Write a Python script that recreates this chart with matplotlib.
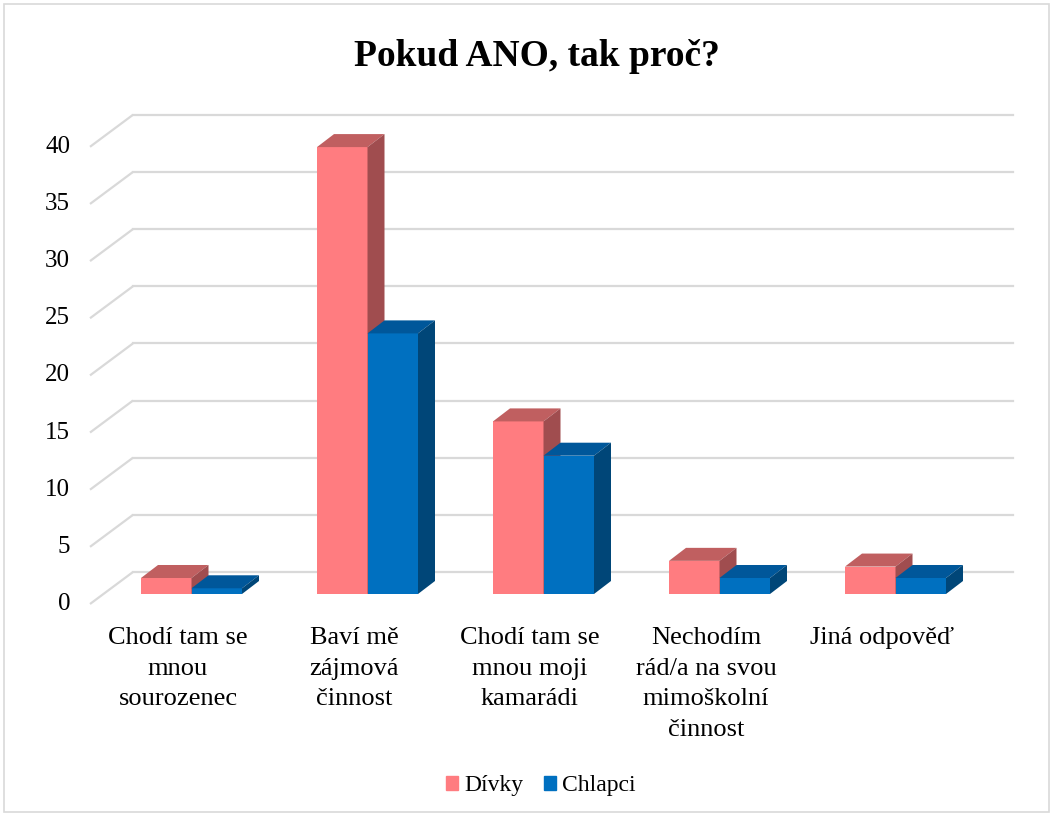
import matplotlib
matplotlib.use('Agg')
import matplotlib.pyplot as plt
from matplotlib.patches import Rectangle

categories = ['Chodí tam se\nmnou\nsourozenec', 'Baví mě\nzájmová\nčinnost',
              'Chodí tam se\nmnou moji\nkamarádi', 'Nechodím\nrád/a na svou\nmimoškolní\nčinnost',
              'Jiná odpověď']
divky = [1.4, 39.1, 15.1, 2.9, 2.4]
chlapci = [0.5, 22.8, 12.1, 1.4, 1.4]
yticks = [0, 5, 10, 15, 20, 25, 30, 35, 40]

# colours: front, top, side
col_d = ('#FF7C80', '#C05F60', '#A04D4F')
col_c = ('#0070C0', '#00579A', '#004678')

plt.rcParams['font.family'] = ['Liberation Serif', 'DejaVu Serif']

fig = plt.figure(figsize=(10.53, 8.16), dpi=100)
ax = fig.add_axes([0, 0, 1, 1])
# data units: 176 px per category, 11.43 px per unit of value
px_x, px_y = 176.0, 11.43
x0, y0 = 191.5, 594.0
ax.set_xlim(-x0 / px_x, (1053 - x0) / px_x)
ax.set_ylim((y0 - 816) / px_y, y0 / px_y)
ax.axis('off')

fig.patches.append(Rectangle((4, 4), 1045, 808, transform=None, fill=False,
                             edgecolor='#d9d9d9', linewidth=1.2))

# 3d offsets
bk_dx, bk_dy = 29.5 / px_x, 22 / px_y      # back wall from bar front plane
fr_dx, fr_dy = -13.5 / px_x, -10 / px_y    # front floor from bar front plane
d_dx, d_dy = 17 / px_x, 13 / px_y          # bar depth

n = len(categories)
for v in yticks:
    xb0 = -0.5 + bk_dx
    xb1 = n - 0.5 + bk_dx
    ax.plot([-0.5 + fr_dx, xb0], [v + fr_dy, v + bk_dy],
            color='#d9d9d9', lw=1.6, zorder=1, solid_capstyle='butt')
    ax.plot([xb0, xb1], [v + bk_dy, v + bk_dy], color='#d9d9d9', lw=1.6, zorder=1)
    ax.text(-0.69, v + fr_dy, str(v), ha='right', va='center', fontsize=18)

w = 50.5 / px_x


def bar3d(xc, val, cols):
    xl, xr = xc - w / 2, xc + w / 2
    ax.bar(xc, val, width=w, color=cols[0], zorder=3, linewidth=0)
    ax.fill([xl, xr, xr + d_dx, xl + d_dx], [val, val, val + d_dy, val + d_dy],
            color=cols[1], zorder=3, linewidth=0)
    ax.fill([xr, xr + d_dx, xr + d_dx, xr], [0, d_dy, val + d_dy, val],
            color=cols[2], zorder=3, linewidth=0)


for i in range(n):
    bar3d(i - w / 2, divky[i], col_d)
    bar3d(i + w / 2, chlapci[i], col_c)
    ax.text(i + fr_dx, -2.9, categories[i], ha='center', va='top', fontsize=19,
            linespacing=1.5)

fig.text(537 / 1053, 1 - 57 / 816, 'Pokud ANO, tak proč?', ha='center', va='center',
         fontsize=27, fontweight='bold')

h1 = Rectangle((0, 0), 1, 1, color=col_d[0])
h2 = Rectangle((0, 0), 1, 1, color=col_c[0])
fig.legend([h1, h2], ['Dívky', 'Chlapci'], loc='center', bbox_to_anchor=(541 / 1053, 1 - 786 / 816),
           ncol=2, frameon=False, fontsize=17, handlelength=0.5, handleheight=0.5,
           handletextpad=0.25, columnspacing=0.9)

fig.savefig('out.png', dpi=100)
